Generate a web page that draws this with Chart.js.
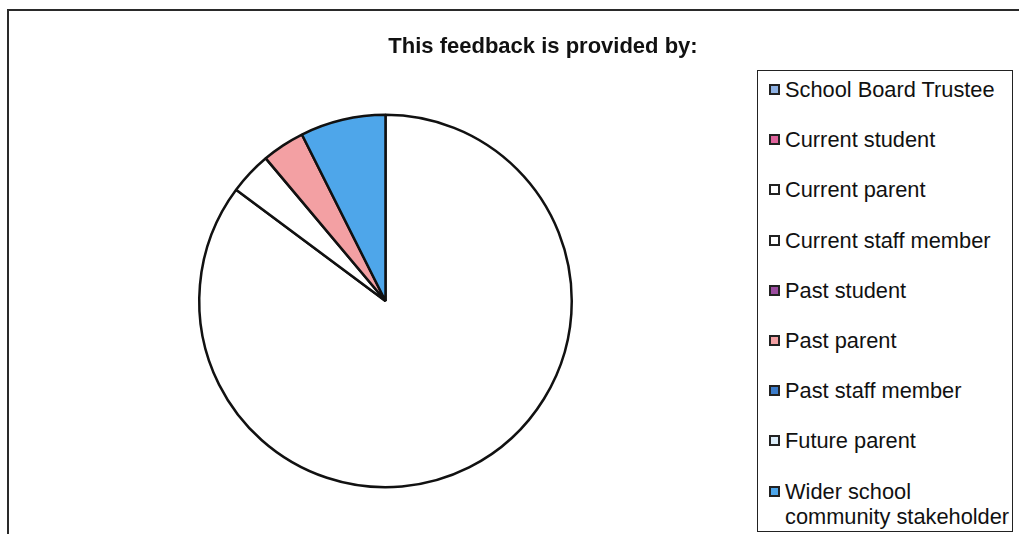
<!DOCTYPE html>
<html>
<head>
<meta charset="utf-8">
<script src="https://cdn.jsdelivr.net/npm/chart.js@4"></script>
<style>
  html, body { margin: 0; background: #fff; overflow: hidden; }
  #wrap { position: relative; width: 1019px; height: 534px; overflow: hidden; background: #fff; }
  #frameTop { position: absolute; left: 7px; top: 9px; width: 1012px; height: 2px; background: #2a2a2a; }
  #frameLeft { position: absolute; left: 7px; top: 9px; width: 2px; height: 525px; background: #2a2a2a; }
  canvas { position: absolute; left: 0; top: 0; }
  #legend { position: absolute; left: 757px; top: 70px; width: 256px; height: 462px;
            box-sizing: border-box; border: 1.5px solid #222; background: #fff;
            font-family: "Liberation Sans", Arial, sans-serif; font-size: 21.8px; color: #111;
            margin: 0; padding: 6px 0 0 0; list-style: none; }
  #legend li { display: flex; align-items: flex-start; line-height: 25px; margin-bottom: 25.2px; }
  #legend .sw { flex: none; width: 11px; height: 11px; box-sizing: border-box; border: 2px solid #222;
                margin: 7px 5px 0 11px; }
  #legend .txt { width: 228px; }
</style>
</head>
<body>
<div id="wrap">
  <canvas id="pie" width="1019" height="534"></canvas>
  <div id="frameTop"></div>
  <div id="frameLeft"></div>
  <ul id="legend"></ul>
</div>
<script>
const chartTitle = 'This feedback is provided by:';
const categories = [
  'School Board Trustee',
  'Current student',
  'Current parent',
  'Current staff member',
  'Past student',
  'Past parent',
  'Past staff member',
  'Future parent',
  'Wider school community stakeholder'
];
const responses = [0, 0, 23, 1, 0, 1, 0, 0, 2];
const sliceColors = ['#8eb1e3', '#e0639c', '#ffffff', '#ffffff', '#9b4c9f', '#f3a0a3', '#3c7cca', '#dcedf9', '#4ea6ea'];

// title sits off-centre from the pie, so draw it ourselves
const titlePlugin = {
  id: 'offsetTitle',
  afterDraw(chart) {
    const ctx = chart.ctx;
    ctx.save();
    ctx.font = 'bold 22px "Liberation Sans", Arial, sans-serif';
    ctx.fillStyle = '#111';
    ctx.textAlign = 'center';
    ctx.textBaseline = 'middle';
    ctx.fillText(chartTitle, 543, 47);
    ctx.restore();
  }
};

const chart = new Chart(document.getElementById('pie').getContext('2d'), {
  type: 'pie',
  data: {
    labels: categories,
    datasets: [{
      data: responses,
      backgroundColor: sliceColors,
      borderColor: '#111',
      borderWidth: 2.5
    }]
  },
  options: {
    responsive: false,
    animation: false,
    layout: { padding: { left: 198, right: 446, top: 113, bottom: 45 } },
    plugins: {
      legend: { display: false },
      title: { display: false },
      tooltip: { enabled: false }
    }
  },
  plugins: [titlePlugin]
});

// html legend so the last label can wrap onto two lines
const legendEl = document.getElementById('legend');
categories.forEach((name, i) => {
  const li = document.createElement('li');
  const sw = document.createElement('span');
  sw.className = 'sw';
  sw.style.background = sliceColors[i];
  const txt = document.createElement('span');
  txt.className = 'txt';
  txt.textContent = name;
  li.appendChild(sw);
  li.appendChild(txt);
  legendEl.appendChild(li);
});
</script>
</body>
</html>
